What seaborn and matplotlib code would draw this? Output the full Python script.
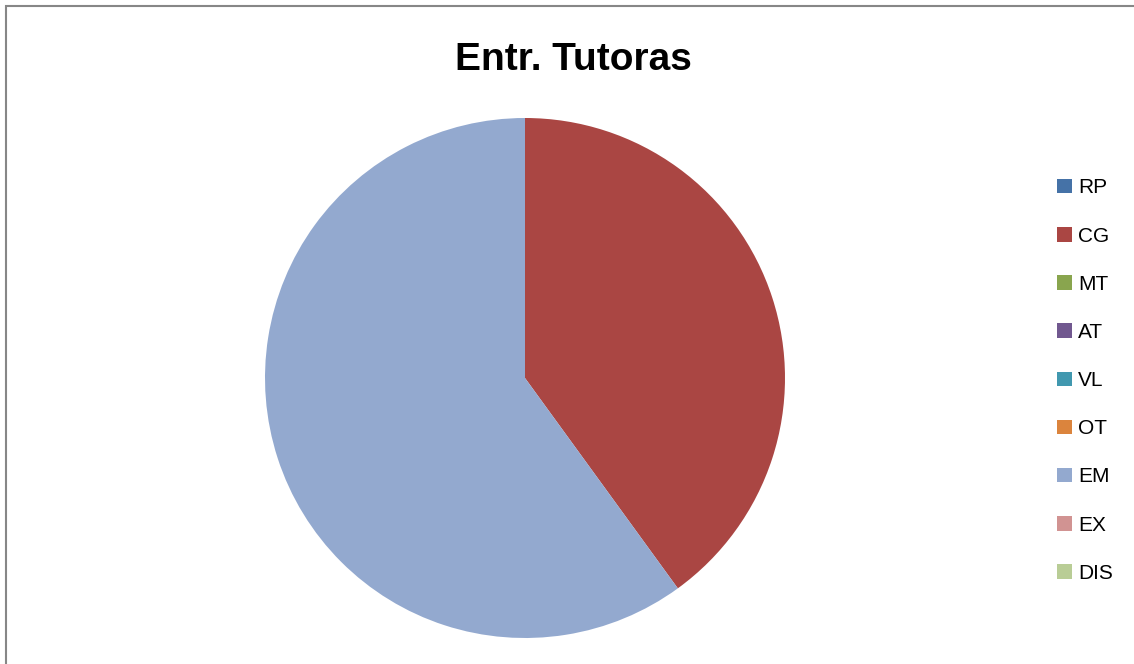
import numpy as np
import matplotlib
matplotlib.use("Agg")
import matplotlib.pyplot as plt
import seaborn as sns
from matplotlib.patches import Rectangle, Patch

# data
categories = ["RP", "CG", "MT", "AT", "VL", "OT", "EM", "EX", "DIS"]
values = [0, 2, 0, 0, 0, 0, 3, 0, 0]
colors = ["#4572A7", "#AA4643", "#89A54E", "#71588F", "#4198AF",
          "#DB843D", "#93A9CF", "#D19392", "#B9CD96"]
title = "Entr. Tutoras"

sns.set_theme(style="white")
plt.rcParams['font.family'] = ['Liberation Sans', 'DejaVu Sans']
plt.rcParams['text.color'] = 'black'
palette = sns.color_palette(colors)

W, H = 1134, 664
fig = plt.figure(figsize=(W / 100, H / 100), dpi=100)

# outer frame (gray, cropped on right and bottom)
fig.patches.append(Rectangle((6 / W, -0.1), 1.2, (H - 6) / H + 0.1,
                             transform=fig.transFigure, fill=False,
                             edgecolor="#878787", linewidth=1.5))

cx, cy, r = 525, 378, 260
ax = fig.add_axes([(cx - r) / W, (H - cy - r) / H, 2 * r / W, 2 * r / H])
ax.pie(values, colors=palette, startangle=90, counterclock=False,
       radius=1, wedgeprops=dict(linewidth=0))
ax.set_xlim(-1, 1)
ax.set_ylim(-1, 1)
ax.set_aspect("auto")
ax.axis("off")

fig.text(573 / W, 1 - 60 / H, title, ha="center", va="center",
         fontsize=28, fontweight="bold", color="black")

handles = [Patch(facecolor=c, edgecolor="none") for c in palette]
fig.legend(handles, categories, loc="upper left",
           bbox_to_anchor=(1047 / W, 1 - 168 / H), frameon=False,
           fontsize=15, handlelength=0.7, handleheight=0.7,
           handletextpad=0.3, labelspacing=1.4, borderpad=0,
           labelcolor="black")

fig.savefig("out.png", dpi=100)
